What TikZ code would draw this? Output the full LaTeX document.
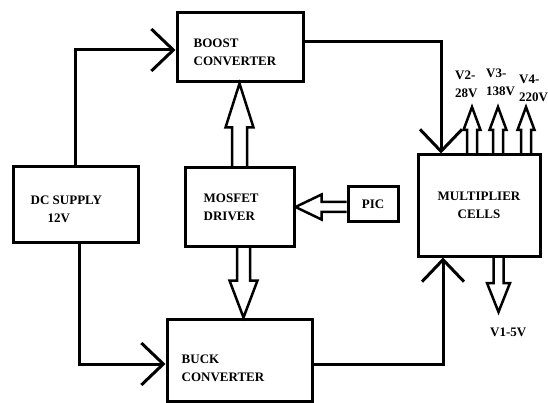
\documentclass[tikz,border=0pt]{standalone}
\usepackage{fontspec}
\setmainfont{Liberation Serif}
\usetikzlibrary{arrows.meta,calc}
\tikzset{
  box/.style={draw, line width=3pt, inner sep=0pt},
  txt/.style={font=\fontsize{13}{18}\selectfont\bfseries, align=left, inner sep=0pt},
  wire/.style={line width=3pt, -{Straight Barb[length=22pt,width=42pt]}},
  hollow/.style={line width=2.5pt, line join=miter},
}
% hollow block arrow: from, to, shaft half width, head half width, head length
\newcommand{\hollowarrow}[5]{%
  \coordinate (hbase) at ($(#2)!#5!(#1)$);
  \draw[hollow] ($(#1)!#3!90:(#2)$) -- ($(hbase)!#3!90:(#2)$) -- ($(hbase)!#4!90:(#2)$)
    -- (#2) -- ($(hbase)!#4!-90:(#2)$) -- ($(hbase)!#3!-90:(#2)$) -- ($(#1)!#3!-90:(#2)$);
}
\begin{document}
\begin{tikzpicture}[x=1pt, y=-1pt]
\useasboundingbox (0,0) rectangle (548,403);
% blocks
\node[box, minimum width=126pt, minimum height=69pt,
  label={[txt, anchor=west, xshift=18pt, yshift=-4.5pt]west:BOOST\\CONVERTER}] (boost) at (240,47.5) {};
\node[box, minimum width=125pt, minimum height=75pt,
  label={[txt, anchor=west, xshift=19pt, yshift=-5pt]west:DC SUPPLY\\\hspace*{17pt}12V}] (dc) at (75.5,204.5) {};
\node[box, minimum width=109pt, minimum height=78pt,
  label={[txt, anchor=west, xshift=20pt]west:MOSFET\\DRIVER}] (mosfet) at (239.5,207) {};
\node[box, txt, minimum width=50pt, minimum height=35pt] (pic) at (373,204.5) {PIC};
\node[box, txt, align=center, minimum width=122pt, minimum height=101pt] (mult) at (479,205.5) {MULTIPLIER\\CELLS};
\node[box, minimum width=145pt, minimum height=82pt,
  label={[txt, anchor=west, xshift=16pt, yshift=-8pt]west:BUCK\\CONVERTER}] (buck) at (239.5,360) {};
% output labels
\node[txt, anchor=west] (v2lbl) at (455,84.5) {V2-\\28V};
\node[txt, anchor=west] (v3lbl) at (486,82.5) {V3-\\138V};
\node[txt, anchor=west] (v4lbl) at (519,88.5) {V4-\\220V};
\node[txt, anchor=west] (v1lbl) at (490,332) {V1-5V};
% power path
\draw[wire] (dc.north) |- ([yshift=-2.5pt]boost.west);
\draw[wire] ([yshift=5.5pt]boost.east) -| ([xshift=-38pt]mult.north);
\draw[wire] ([xshift=3.5pt]dc.south) |- ([yshift=-4pt]buck.west);
\draw[wire] ([yshift=-4pt]buck.east) -| ([xshift=-36pt]mult.south);
% gate signals
\coordinate (drvup) at (mosfet.north);
\coordinate (drvuptip) at (mosfet.north |- boost.south);
\hollowarrow{drvup}{drvuptip}{7.5pt}{14pt}{44pt}
\coordinate (drvdn) at ([xshift=4pt]mosfet.south);
\coordinate (drvdntip) at (drvdn |- buck.north);
\hollowarrow{drvdn}{drvdntip}{6.5pt}{14pt}{37pt}
\coordinate (picout) at ([yshift=-2.5pt]pic.west);
\coordinate (picouttip) at (mosfet.east |- picout);
\hollowarrow{picout}{picouttip}{5pt}{12.5pt}{26pt}
% outputs
\foreach \x/\n in {472/v2, 498/v3, 526/v4} {
  \coordinate (\n tip) at (\x,107);
  \coordinate (\n base) at (\n tip |- mult.north);
  \hollowarrow{\n base}{\n tip}{5pt}{8.5pt}{23pt}
}
\coordinate (v1tip) at (498.5,312);
\coordinate (v1base) at (v1tip |- mult.south);
\hollowarrow{v1base}{v1tip}{5pt}{11.5pt}{29pt}
\end{tikzpicture}
\end{document}
